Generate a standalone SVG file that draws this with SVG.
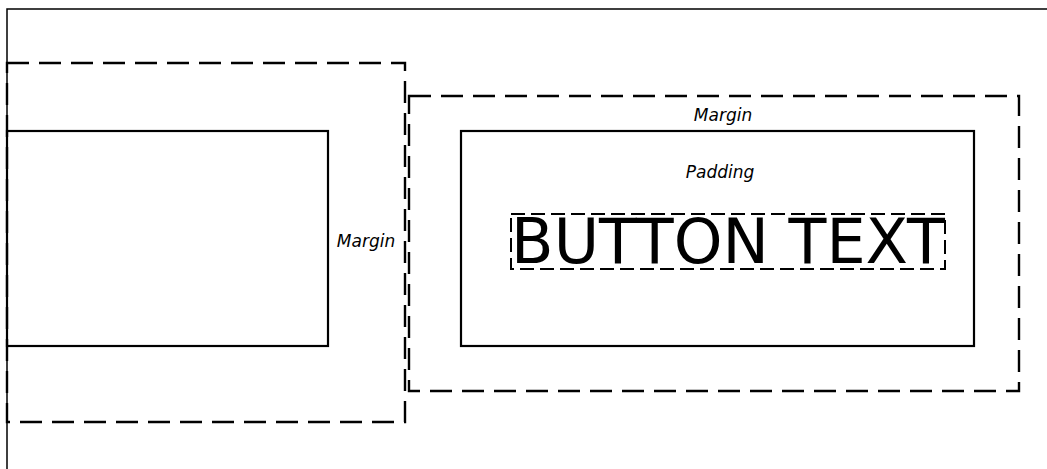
<svg xmlns="http://www.w3.org/2000/svg" width="1047" height="469" viewBox="0 0 1047 469">
<style>
.frame{fill:none;stroke:#000;stroke-width:1.5}
.solid{fill:none;stroke:#000;stroke-width:2.2}
.margin{fill:none;stroke:#000;stroke-width:2.4;stroke-dasharray:22 10}
.content{fill:none;stroke:#000;stroke-width:2;stroke-dasharray:14 6}
.lbl{font-family:"DejaVu Sans",sans-serif;font-style:italic;font-size:17px;fill:#000;text-anchor:middle}
.btn{font-family:"DejaVu Sans",sans-serif;font-size:62px;fill:#000;text-anchor:middle}
</style>
<rect width="1047" height="469" fill="#fff"/>
<path class="frame" d="M1047,9 H7 V469"/>
<g id="left-element">
<rect class="margin" x="7" y="63" width="398" height="359"/>
<rect class="solid" x="7" y="131" width="321" height="215"/>
<text class="lbl" x="366" y="247">Margin</text>
</g>
<g id="button">
<rect class="margin" x="409" y="96" width="610" height="295"/>
<rect class="solid" x="461" y="131" width="513" height="215"/>
<text class="lbl" x="723" y="121">Margin</text>
<text class="lbl" x="720" y="178">Padding</text>
<rect class="content" x="511" y="214" width="434" height="55"/>
<text class="btn" x="728" y="263">BUTTON TEXT</text>
</g>
<g id="connectors"/>
</svg>
